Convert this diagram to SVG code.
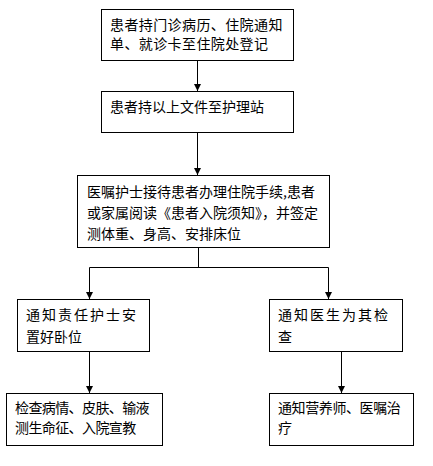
<svg xmlns="http://www.w3.org/2000/svg" width="433" height="466" viewBox="0 0 433 466">
<style>
.box{fill:#fff;stroke:#000;stroke-width:1}
.t{font-family:"Noto Sans CJK SC","Noto Sans CJK JP",sans-serif;font-size:14px;fill:#000}
.ln{fill:none;stroke:#000;stroke-width:1}
</style>
<defs>
<marker id="ah" markerUnits="userSpaceOnUse" markerWidth="8" markerHeight="8" refX="7" refY="4" orient="auto">
<path d="M0,0.5 L7,4 L0,7.5 Z" fill="#000"/>
</marker>
</defs>
<rect width="433" height="466" fill="#fff"/>
<g id="connectors">
<path class="ln" d="M197.5,60 V91" marker-end="url(#ah)"/>
<path class="ln" d="M197.5,132 V175" marker-end="url(#ah)"/>
<path class="ln" d="M198.5,247 V267.5"/>
<path class="ln" d="M89.5,267.5 H328.5"/>
<path class="ln" d="M89.5,267.5 V299" marker-end="url(#ah)"/>
<path class="ln" d="M328.5,267.5 V299" marker-end="url(#ah)"/>
<path class="ln" d="M89.5,351 V393" marker-end="url(#ah)"/>
<path class="ln" d="M341.5,351 V393" marker-end="url(#ah)"/>
</g>
<g id="n1">
<rect class="box" x="101.5" y="9.5" width="192" height="51"/>
<text class="t" x="110" y="30" letter-spacing="0.4">患者持门诊病历、住院通知</text>
<text class="t" x="110" y="49" letter-spacing="0.4">单、就诊卡至住院处登记</text>
</g>
<g id="n2">
<rect class="box" x="101.5" y="91.5" width="192" height="41"/>
<text class="t" x="110" y="112">患者持以上文件至护理站</text>
</g>
<g id="n3">
<rect class="box" x="77.5" y="175.5" width="252" height="72"/>
<text class="t" x="87" y="197">医嘱护士接待患者办理住院手续,患者</text>
<text class="t" x="87" y="218">或家属阅读《患者入院须知》，并签定</text>
<text class="t" x="87" y="239">测体重、身高、安排床位</text>
</g>
<g id="n4">
<rect class="box" x="17.5" y="299.5" width="132" height="52"/>
<text class="t" x="26" y="320" letter-spacing="2">通知责任护士安</text>
<text class="t" x="26" y="342">置好卧位</text>
</g>
<g id="n5">
<rect class="box" x="269.5" y="299.5" width="133" height="52"/>
<text class="t" x="278" y="320" letter-spacing="2">通知医生为其检</text>
<text class="t" x="278" y="342">查</text>
</g>
<g id="n6">
<rect class="box" x="6.5" y="393.5" width="156" height="52"/>
<text class="t" x="15" y="413" letter-spacing="-0.6">检查病情、皮肤、输液</text>
<text class="t" x="15" y="433" letter-spacing="-0.6">测生命征、入院宣教</text>
</g>
<g id="n7">
<rect class="box" x="269.5" y="393.5" width="144" height="52"/>
<text class="t" x="278" y="413" letter-spacing="-0.4">通知营养师、医嘱治</text>
<text class="t" x="278" y="433">疗</text>
</g>
</svg>
